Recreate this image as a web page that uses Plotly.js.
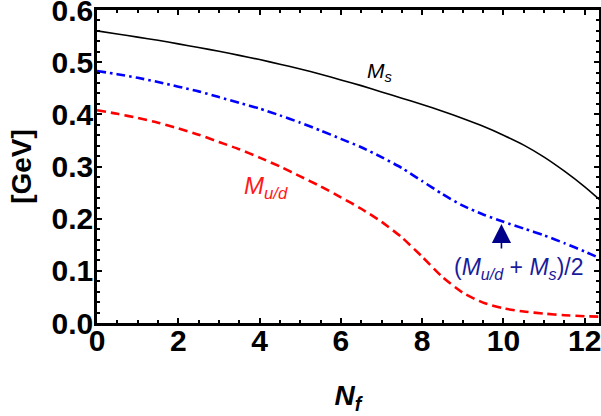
<!DOCTYPE html>
<html>
<head>
<meta charset="utf-8">
<script src="https://cdn.plot.ly/plotly-3.0.1.min.js"></script>
<style>html,body{margin:0;padding:0;background:#fff;}#chart{width:601px;height:416px;}</style>
</head>
<body>
<div id="chart"></div>
<script>
// N_f grid
var nf   = [0, 0.5, 1, 1.5, 2, 2.5, 3, 3.5, 4, 4.5, 5, 5.5, 6, 6.5, 7, 7.5, 8, 8.5, 9, 9.5, 10, 10.5, 11, 11.5, 12, 12.4];
// strange quark mass M_s [GeV]
var Ms   = [0.560, 0.554, 0.548, 0.542, 0.535, 0.528, 0.521, 0.513, 0.505, 0.496, 0.487, 0.477, 0.466, 0.455, 0.443, 0.431, 0.419, 0.406, 0.392, 0.377, 0.360, 0.341, 0.318, 0.291, 0.261, 0.234];
// light quark mass M_u/d [GeV]
var Mud  = [0.408, 0.401, 0.393, 0.384, 0.373, 0.361, 0.347, 0.333, 0.317, 0.300, 0.281, 0.262, 0.241, 0.219, 0.194, 0.164, 0.127, 0.088, 0.058, 0.039, 0.028, 0.022, 0.018, 0.015, 0.013, 0.012];
// (M_u/d + M_s)/2 [GeV]
var Mavg = [0.483, 0.477, 0.470, 0.462, 0.453, 0.444, 0.433, 0.422, 0.411, 0.398, 0.384, 0.369, 0.353, 0.337, 0.318, 0.297, 0.272, 0.247, 0.225, 0.208, 0.194, 0.181, 0.168, 0.153, 0.137, 0.123];

var traces = [
  {x: nf, y: Ms, mode: 'lines', line: {color: '#000000', width: 1.6, shape: 'spline', smoothing: 0.6}, showlegend: false, hoverinfo: 'none'},
  {x: nf, y: Mavg, mode: 'lines', line: {color: '#0000ff', width: 2.6, dash: '9px,4px,2.5px,4px', shape: 'spline', smoothing: 0.6}, showlegend: false, hoverinfo: 'none'},
  {x: nf, y: Mud, mode: 'lines', line: {color: '#ff0000', width: 2.6, dash: '9px,5px', shape: 'spline', smoothing: 0.6}, showlegend: false, hoverinfo: 'none'}
];

var FAM = 'Liberation Sans, Arial, sans-serif';
var tickFont = {family: FAM, size: 30, color: '#000', weight: 'bold'};

var layout = {
  width: 601, height: 416,
  margin: {l: 97, r: 2, t: 10, b: 93, pad: 0},
  paper_bgcolor: '#fff', plot_bgcolor: '#fff',
  xaxis: {
    range: [0, 12.35], tickmode: 'linear', tick0: 0, dtick: 2,
    ticks: 'inside', ticklen: 5, tickwidth: 1.5, tickcolor: '#000',
    minor: {tickmode: 'linear', tick0: 0, dtick: 0.5, ticks: 'inside', ticklen: 3, tickwidth: 1.5, tickcolor: '#000', showgrid: false},
    showline: true, linewidth: 2.5, linecolor: '#000', mirror: 'ticks',
    showgrid: false, zeroline: false, tickfont: tickFont, ticklabelstandoff: -11, ticklabeloverflow: 'allow',
    title: {text: '<b><i>N</i><sub><i>f</i></sub></b>', font: {family: FAM, size: 28, color: '#000'}, standoff: 30}
  },
  yaxis: {
    range: [0, 0.6], tickmode: 'linear', tick0: 0, dtick: 0.1, tickformat: '.1f',
    ticks: 'inside', ticklen: 5, tickwidth: 1.5, tickcolor: '#000',
    minor: {tickmode: 'linear', tick0: 0, dtick: 0.02, ticks: 'inside', ticklen: 3, tickwidth: 1.5, tickcolor: '#000', showgrid: false},
    showline: true, linewidth: 2.5, linecolor: '#000', mirror: 'ticks',
    showgrid: false, zeroline: false, tickfont: tickFont, ticklabelstandoff: -5, ticklabeloverflow: 'allow',
    title: {text: '<b>[GeV]</b>', font: {family: FAM, size: 28, color: '#000'}, standoff: 12}
  },
  annotations: [
    {x: 6.97, y: 0.481, xref: 'x', yref: 'y', showarrow: false, xanchor: 'center', yanchor: 'middle',
     text: '<i>M</i><sub><i>s</i></sub>', font: {family: FAM, size: 21, color: '#000'}},
    {x: 4.15, y: 0.259, xref: 'x', yref: 'y', showarrow: false, xanchor: 'center', yanchor: 'middle',
     text: '<i>M</i><sub><i>u/d</i></sub>', font: {family: FAM, size: 24, color: '#ff1a1a'}},
    {x: 12.03, y: 0.105, xref: 'x', yref: 'y', showarrow: false, xanchor: 'right', yanchor: 'middle',
     text: '(<i>M</i><sub><i>u/d</i></sub> + <i>M</i><sub><i>s</i></sub>)/2', font: {family: FAM, size: 23, color: '#1a1a9c'}},
    {x: 9.95, y: 0.190, xref: 'x', yref: 'y', showarrow: true, ax: 0, ay: 26, axref: 'pixel', ayref: 'pixel',
     arrowhead: 2, arrowsize: 2.4, arrowwidth: 1.6, arrowcolor: '#00008b', text: ''}
  ]
};

Plotly.newPlot('chart', traces, layout, {displayModeBar: false});
</script>
</body>
</html>
